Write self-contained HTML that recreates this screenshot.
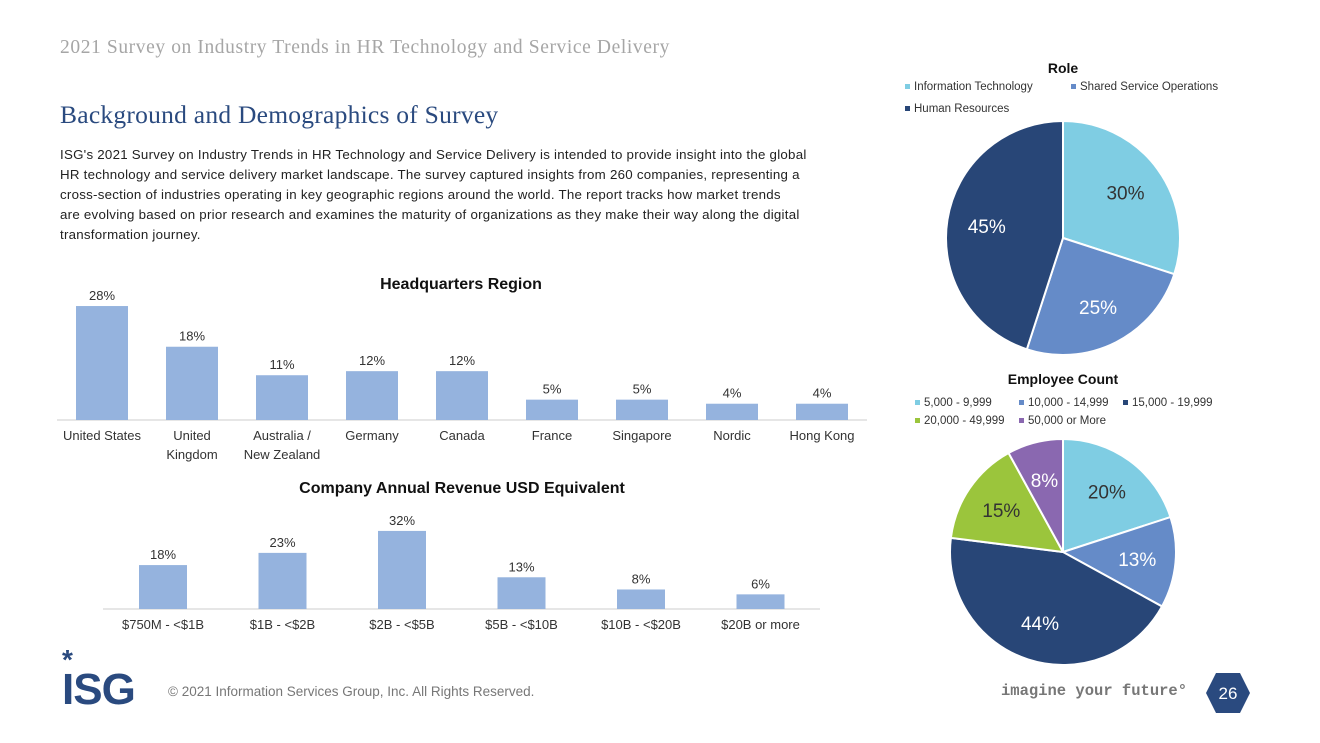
<!DOCTYPE html>
<html><head><meta charset="utf-8"><style>
body{margin:0;width:1320px;height:743px;background:#fff;font-family:"Liberation Sans",sans-serif;position:relative;overflow:hidden}
.t{position:absolute;white-space:nowrap}
</style></head><body>
<div class="t" style="left:60px;top:37px;font-family:'Liberation Serif',serif;font-size:19.5px;letter-spacing:0.6px;color:#a6a6a6">2021 Survey on Industry Trends in HR Technology and Service Delivery</div>
<div class="t" style="left:60px;top:100px;font-family:'Liberation Serif',serif;font-size:25.5px;letter-spacing:0.25px;color:#2a4a7f">Background and Demographics of Survey</div>
<div class="t" style="left:60px;top:145px;font-size:13.3px;letter-spacing:0.25px;line-height:20px;color:#222;white-space:normal;width:790px">ISG's 2021 Survey on Industry Trends in HR Technology and Service Delivery is intended to provide insight into the global<br>HR technology and service delivery market landscape. The survey captured insights from 260 companies, representing a<br>cross-section of industries operating in key geographic regions around the world. The report tracks how market trends<br>are evolving based on prior research and examines the maturity of organizations as they make their way along the digital<br>transformation journey.</div>
<svg id="c" width="1320" height="743" style="position:absolute;left:0;top:0" font-family="Liberation Sans, sans-serif"></svg>
<div class="t" style="left:168px;top:684px;font-size:13.5px;color:#777">© 2021 Information Services Group, Inc. All Rights Reserved.</div>
<div class="t" style="left:62px;top:665px;font-family:'Liberation Sans',sans-serif;font-weight:bold;font-size:44px;color:#2a4a7f;letter-spacing:-1px">ISG</div>
<div class="t" style="left:62px;top:644px;font-size:28px;font-weight:bold;color:#2a4a7f">*</div>
<div class="t" style="left:1001px;top:682px;font-family:'Liberation Mono',monospace;font-weight:bold;font-size:15.5px;color:#777">imagine your future°</div>
<svg style="position:absolute;left:1205px;top:672px" width="46" height="42"><polygon points="11,1 35,1 45,21 35,41 11,41 1,21" fill="#2a4a7f"/><text x="23" y="27" fill="#fff" font-size="17" text-anchor="middle" font-family="Liberation Sans">26</text></svg>
<script>
const hqCats=["United States","United|Kingdom","Australia /|New Zealand","Germany","Canada","France","Singapore","Nordic","Hong Kong"];
const hqVals=[28,18,11,12,12,5,5,4,4];
const revCats=["$750M - <$1B","$1B - <$2B","$2B - <$5B","$5B - <$10B","$10B - <$20B","$20B or more"];
const revVals=[18,23,32,13,8,6];
const roleCats=["Information Technology","Shared Service Operations","Human Resources"];
const roleVals=[30,25,45];
const empCats=["5,000 - 9,999","10,000 - 14,999","15,000 - 19,999","20,000 - 49,999","50,000 or More"];
const empVals=[20,13,44,15,8];
const NS="http://www.w3.org/2000/svg",svg=document.getElementById('c');
function el(t,a,p){const e=document.createElementNS(NS,t);for(const k in a)e.setAttribute(k,a[k]);(p||svg).appendChild(e);return e;}
function txt(x,y,s,a,name){const e=el('text',Object.assign({x:x,y:y,'font-size':13,fill:'#333','text-anchor':'middle'},a||{}));e.textContent=s;

return e;}
function bars(cats,vals,x0,step,w,base,scale,axL,axR,title,tx,ty,nm){
 txt(tx,ty,title,{'font-weight':'bold','font-size':16,fill:'#111'},nm+'-title');
 const ax=el('line',{x1:axL,x2:axR,y1:base,y2:base,stroke:'#ccc'});
 
 
 vals.forEach((v,i)=>{const cx=x0+i*step,h=v*scale;
  const r=el('rect',{x:cx-w/2,y:base-h,width:w,height:h,fill:'#95b3de'});
  
  
  txt(cx,base-h-6,v+'%',{},nm+'-value-label');
  cats[i].split('|').forEach((s,j)=>txt(cx,base+20+j*19,s,{},nm+'-category-label'));});
}
bars(hqCats,hqVals,102,90,52,420,4.07,57,867,'Headquarters Region',461,289,'hq');
bars(revCats,revVals,163,119.5,48,609,2.44,103,820,'Company Annual Revenue USD Equivalent',462,493,'revenue');
function pie(cats,vals,cols,cx,cy,r,lblCols,title,ty,legRows,nm){
 txt(cx,ty,title,{'font-weight':'bold','font-size':14,fill:'#111'},nm+'-title');
 legRows.forEach(row=>row.forEach(([i,x,y])=>{
  const s=el('rect',{x:x,y:y-6,width:5,height:5,fill:cols[i]});
  
  
  txt(x+9,y,cats[i],{'text-anchor':'start','font-size':11.5},nm+'-legend-entry');}));
 const tot=vals.reduce((a,b)=>a+b,0);let a=-Math.PI/2;
 vals.forEach((v,i)=>{const a2=a+v/tot*2*Math.PI;
  const x1=cx+r*Math.cos(a),y1=cy+r*Math.sin(a),x2=cx+r*Math.cos(a2),y2=cy+r*Math.sin(a2);
  const p=el('path',{d:`M${cx},${cy}L${x1},${y1}A${r},${r} 0 ${a2-a>Math.PI?1:0} 1 ${x2},${y2}Z`,fill:cols[i],stroke:'#fff','stroke-width':2});
  
  
  const m=(a+a2)/2;txt(cx+r*0.66*Math.cos(m),cy+r*0.66*Math.sin(m)+7,v+'%',{'font-size':19,fill:lblCols[i]},nm+'-slice-label');
  a=a2;});
}
pie(roleCats,roleVals,['#7fcde3','#658bc8','#284677'],1063,238,117,['#333','#fff','#fff'],'Role',73,
 [[[0,905,90],[1,1071,90]],[[2,905,112]]],'role');
pie(empCats,empVals,['#7fcde3','#658bc8','#284677','#9bc53c','#8a68b0'],1063,552,113,['#333','#fff','#fff','#333','#fff'],'Employee Count',384,
 [[[0,915,406],[1,1019,406],[2,1123,406]],[[3,915,424],[4,1019,424]]],'employee');
</script>
</body></html>
